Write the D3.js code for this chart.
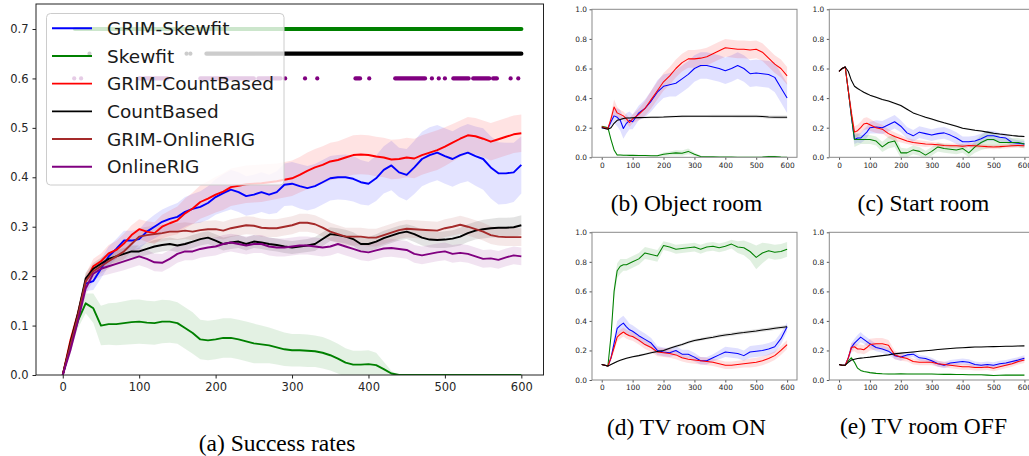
<!DOCTYPE html>
<html><head><meta charset="utf-8">
<script src="https://cdn.jsdelivr.net/npm/d3@7"></script>
<style>body{margin:0;background:#fff}svg{display:block}</style>
</head><body>
<svg id="c" width="1029" height="456"></svg>
<script>
// ---------------- DATA: main chart (a) ----------------
const mainSteps = [0,10,20,30,40,50,60,70,80,90,100,110,120,130,140,150,160,170,180,190,200,210,220,230,240,250,260,270,280,290,300,310,320,330,340,350,360,370,380,390,400,410,420,430,440,450,460,470,480,490,500,510,520,530,540,550,560,570,580,590,600];
const seriesNames = ["GRIM-Skewfit","Skewfit","GRIM-CountBased","CountBased","GRIM-OnlineRIG","OnlineRIG"];
const seriesColors = ["#0000ff","#008000","#ff0000","#000000","#a52a2a","#800080"];
const mainXTicks = [0,100,200,300,400,500,600];
const mainYTicks = [0,0.1,0.2,0.3,0.4,0.5,0.6,0.7];

const grimSkewfit = [0,0.06,0.12,0.185,0.19,0.215,0.24,0.255,0.272,0.272,
 0.275,0.29,0.30,0.31,0.316,0.32,0.33,0.336,0.34,0.348,
 0.36,0.368,0.375,0.37,0.362,0.365,0.37,0.365,0.37,0.385,
 0.387,0.382,0.378,0.382,0.39,0.398,0.40,0.40,0.397,0.39,
 0.387,0.398,0.415,0.424,0.41,0.405,0.42,0.437,0.445,0.45,
 0.443,0.437,0.445,0.45,0.443,0.437,0.42,0.408,0.408,0.41,0.425];
const grimSkewfitW = [0,0.01,0.012,0.015,0.018,0.02,0.02,0.02,0.02,0.02,
 0.02,0.022,0.024,0.025,0.026,0.028,0.03,0.03,0.032,0.034,
 0.036,0.038,0.04,0.04,0.04,0.04,0.04,0.04,0.042,0.043,
 0.044,0.045,0.045,0.045,0.045,0.045,0.045,0.046,0.046,0.045,
 0.044,0.046,0.048,0.05,0.05,0.052,0.054,0.055,0.056,0.056,
 0.056,0.056,0.057,0.058,0.06,0.062,0.063,0.063,0.062,0.06,0.058];
const skewfit = [0,0.06,0.11,0.145,0.135,0.1,0.103,0.103,0.105,0.107,
 0.108,0.106,0.105,0.108,0.108,0.105,0.095,0.085,0.072,0.07,
 0.072,0.075,0.075,0.072,0.068,0.064,0.062,0.06,0.056,0.052,
 0.05,0.05,0.049,0.048,0.045,0.04,0.033,0.025,0.021,0.021,
 0.022,0.02,0.012,0.003,0,0,0,0,0,0,
 0,0,0,0,0,0,0,0,0,0,0];
const skewfitW = [0,0.01,0.015,0.02,0.03,0.04,0.042,0.043,0.044,0.045,
 0.045,0.044,0.044,0.044,0.043,0.042,0.042,0.042,0.04,0.04,
 0.04,0.04,0.04,0.04,0.04,0.04,0.038,0.036,0.035,0.034,
 0.033,0.033,0.033,0.032,0.032,0.031,0.03,0.029,0.028,0.028,
 0.028,0.025,0.015,0.005,0,0,0,0,0,0,
 0,0,0,0,0,0,0,0,0,0,0];
const grimCount = [0,0.07,0.125,0.19,0.22,0.23,0.246,0.253,0.266,0.283,
 0.295,0.29,0.287,0.30,0.307,0.313,0.327,0.337,0.35,0.357,
 0.365,0.371,0.38,0.383,0.386,0.387,0.388,0.39,0.392,0.395,
 0.398,0.405,0.413,0.42,0.425,0.432,0.435,0.44,0.445,0.446,
 0.445,0.442,0.44,0.436,0.437,0.44,0.438,0.445,0.45,0.455,
 0.462,0.47,0.478,0.485,0.483,0.478,0.472,0.477,0.482,0.487,0.489];
const grimCountW = [0,0.01,0.012,0.015,0.015,0.016,0.017,0.018,0.02,0.02,
 0.02,0.021,0.022,0.024,0.026,0.028,0.03,0.032,0.034,0.035,
 0.036,0.037,0.038,0.038,0.038,0.038,0.038,0.037,0.036,0.036,
 0.036,0.036,0.037,0.037,0.038,0.038,0.038,0.039,0.04,0.04,
 0.04,0.04,0.04,0.04,0.04,0.04,0.04,0.04,0.04,0.04,
 0.039,0.038,0.037,0.037,0.037,0.037,0.038,0.038,0.038,0.038,0.038];
const countBased = [0,0.065,0.125,0.195,0.215,0.225,0.235,0.24,0.245,0.25,
 0.25,0.255,0.26,0.263,0.265,0.262,0.265,0.27,0.275,0.278,
 0.272,0.265,0.268,0.27,0.265,0.27,0.268,0.265,0.263,0.26,
 0.258,0.26,0.262,0.265,0.275,0.285,0.283,0.28,0.275,0.265,
 0.265,0.27,0.277,0.282,0.287,0.29,0.285,0.278,0.274,0.273,
 0.274,0.276,0.28,0.287,0.292,0.295,0.297,0.298,0.298,0.299,0.303];
const countBasedW = [0,0.008,0.01,0.012,0.012,0.012,0.012,0.012,0.012,0.012,
 0.012,0.012,0.013,0.013,0.013,0.013,0.013,0.013,0.013,0.013,
 0.013,0.013,0.013,0.013,0.013,0.013,0.013,0.013,0.013,0.013,
 0.013,0.013,0.013,0.014,0.014,0.014,0.014,0.014,0.014,0.014,
 0.014,0.015,0.015,0.015,0.015,0.015,0.016,0.016,0.016,0.016,
 0.017,0.017,0.018,0.018,0.018,0.019,0.019,0.02,0.02,0.02,0.02];
const grimOnline = [0,0.06,0.12,0.19,0.21,0.22,0.23,0.24,0.25,0.265,
 0.28,0.283,0.285,0.287,0.29,0.29,0.292,0.29,0.293,0.295,
 0.295,0.292,0.297,0.3,0.303,0.302,0.298,0.297,0.297,0.3,
 0.303,0.308,0.308,0.305,0.298,0.29,0.285,0.28,0.28,0.28,
 0.278,0.278,0.283,0.288,0.293,0.296,0.295,0.294,0.293,0.292,
 0.297,0.3,0.304,0.3,0.295,0.29,0.283,0.28,0.279,0.279,0.279];
const grimOnlineW = [0,0.008,0.01,0.012,0.013,0.014,0.015,0.015,0.016,0.016,
 0.017,0.017,0.017,0.017,0.017,0.017,0.017,0.017,0.017,0.017,
 0.018,0.018,0.018,0.018,0.018,0.018,0.018,0.018,0.018,0.018,
 0.018,0.018,0.018,0.018,0.018,0.018,0.018,0.018,0.018,0.018,
 0.018,0.018,0.018,0.018,0.018,0.018,0.018,0.018,0.018,0.018,
 0.018,0.018,0.018,0.018,0.018,0.018,0.018,0.018,0.018,0.018,0.018];
const onlineRIG = [0,0.05,0.11,0.175,0.205,0.215,0.22,0.225,0.23,0.235,
 0.24,0.235,0.228,0.227,0.235,0.245,0.25,0.25,0.255,0.258,
 0.26,0.265,0.268,0.265,0.262,0.265,0.265,0.26,0.258,0.258,
 0.26,0.262,0.262,0.26,0.258,0.26,0.265,0.26,0.255,0.25,
 0.248,0.252,0.256,0.257,0.255,0.253,0.245,0.242,0.245,0.248,
 0.25,0.245,0.247,0.245,0.24,0.235,0.236,0.233,0.238,0.242,0.24];
const onlineRIGW = [0,0.008,0.01,0.012,0.014,0.015,0.016,0.017,0.018,0.018,
 0.018,0.018,0.018,0.018,0.018,0.018,0.018,0.018,0.018,0.018,
 0.018,0.018,0.018,0.018,0.018,0.018,0.018,0.018,0.018,0.018,
 0.018,0.018,0.018,0.018,0.018,0.018,0.018,0.018,0.018,0.018,
 0.018,0.018,0.018,0.018,0.018,0.018,0.018,0.018,0.018,0.018,
 0.018,0.018,0.018,0.018,0.018,0.018,0.018,0.018,0.018,0.018,0.018];

// significance rows (runs of steps [start, end]) at fixed heights
const sigGreenLevel = 0.7, sigBlackLevel = 0.65, sigPurpleLevel = 0.6;
const sigGreenRuns = [[16,600]];
const sigBlackRuns = [[35,35],[162,162],[167,167],[188,600]];
const sigPurpleRuns = [[15,15],[24,24],[100,137],[180,250],[256,285],[291,291],[317,317],[333,333],[383,389],[401,401],[435,474],[483,483],[492,492],[500,500],[511,531],[537,558],[563,568],[586,586],[596,596]];

// ---------------- DATA: sub charts (b)-(e) ----------------
const subSteps = [0,10,20,30,40,50,60,70,80,90,100,120,140,160,180,200,220,240,260,280,300,320,340,360,380,400,420,440,460,480,500,520,540,560,580,600];
const subXTicks = [0,100,200,300,400,500,600];
const subYTicks = [0,0.2,0.4,0.6,0.8,1.0];
const subTitles = ["(b) Object room","(c) Start room","(d) TV room ON","(e) TV room OFF"];

// (b) Object room
const objBlue  = [0.2,0.2,0.195,0.24,0.28,0.27,0.25,0.195,0.23,0.25,0.24,0.3,0.33,0.38,0.44,0.48,0.49,0.5,0.53,0.56,0.6,0.62,0.62,0.61,0.6,0.585,0.6,0.62,0.6,0.565,0.57,0.565,0.56,0.54,0.47,0.4];
const objBlueW = [0,0.01,0.01,0.03,0.05,0.06,0.07,0.07,0.07,0.06,0.05,0.05,0.06,0.07,0.08,0.08,0.08,0.09,0.09,0.09,0.09,0.09,0.09,0.09,0.09,0.09,0.09,0.09,0.09,0.09,0.09,0.09,0.09,0.1,0.1,0.1];
const objGreen = [0.21,0.205,0.2,0.12,0.05,0.015,0.015,0.014,0.014,0.013,0.013,0.012,0.012,0.011,0.01,0.02,0.025,0.03,0.028,0.04,0.02,0.005,0.003,0.003,0.002,0.002,0.002,0.001,0.001,0.001,0.001,0.002,0.005,0.005,0.002,0.0];
const objGreenW = [0,0.005,0.005,0.01,0.01,0.006,0.005,0.005,0.005,0.005,0.005,0.005,0.005,0.005,0.006,0.012,0.015,0.018,0.018,0.02,0.012,0.005,0.003,0.003,0.002,0.002,0.002,0.002,0.002,0.002,0.002,0.003,0.005,0.005,0.003,0.002];
const objRed   = [0.207,0.2,0.195,0.26,0.34,0.3,0.29,0.28,0.26,0.235,0.26,0.29,0.33,0.39,0.45,0.51,0.55,0.6,0.64,0.665,0.665,0.67,0.68,0.7,0.72,0.74,0.735,0.73,0.73,0.725,0.73,0.71,0.67,0.63,0.6,0.55];
const objRedW  = [0,0.01,0.01,0.03,0.05,0.04,0.03,0.03,0.03,0.03,0.03,0.04,0.05,0.06,0.06,0.06,0.06,0.06,0.06,0.06,0.06,0.06,0.06,0.06,0.06,0.06,0.06,0.06,0.06,0.06,0.06,0.06,0.06,0.06,0.06,0.06];
const objBlack = [0.2,0.195,0.19,0.2,0.23,0.25,0.255,0.262,0.265,0.266,0.267,0.268,0.269,0.27,0.271,0.272,0.274,0.276,0.277,0.278,0.278,0.278,0.278,0.278,0.278,0.278,0.278,0.278,0.278,0.277,0.277,0.275,0.272,0.271,0.27,0.27];
const objBlackW = [0,0.003,0.004,0.005,0.006,0.006,0.006,0.006,0.006,0.006,0.006,0.006,0.006,0.006,0.007,0.007,0.007,0.007,0.008,0.008,0.008,0.008,0.008,0.009,0.009,0.009,0.009,0.01,0.01,0.01,0.01,0.01,0.011,0.011,0.012,0.012];

// (c) Start room
const startBlue  = [0.58,0.6,0.61,0.45,0.28,0.12,0.13,0.13,0.15,0.17,0.2,0.205,0.2,0.22,0.24,0.21,0.165,0.145,0.17,0.16,0.15,0.16,0.165,0.15,0.13,0.105,0.105,0.11,0.125,0.145,0.145,0.135,0.13,0.1,0.095,0.09];
const startBlueW = [0,0.005,0.005,0.03,0.04,0.03,0.03,0.035,0.04,0.04,0.04,0.045,0.045,0.045,0.045,0.04,0.04,0.04,0.04,0.04,0.04,0.04,0.04,0.04,0.04,0.035,0.035,0.035,0.035,0.035,0.035,0.03,0.03,0.025,0.02,0.02];
const startGreen = [0.58,0.6,0.61,0.45,0.28,0.12,0.12,0.12,0.12,0.12,0.12,0.11,0.07,0.1,0.11,0.03,0.03,0.05,0.04,0.015,0.04,0.07,0.06,0.055,0.05,0.06,0.03,0.07,0.1,0.12,0.12,0.1,0.1,0.1,0.1,0.09];
const startGreenW = [0,0.005,0.005,0.03,0.05,0.05,0.04,0.03,0.03,0.03,0.03,0.03,0.035,0.04,0.04,0.035,0.03,0.03,0.03,0.03,0.03,0.03,0.03,0.03,0.03,0.03,0.03,0.04,0.05,0.06,0.05,0.04,0.03,0.03,0.03,0.03];
const startRed   = [0.58,0.6,0.61,0.45,0.3,0.17,0.18,0.2,0.225,0.23,0.22,0.2,0.19,0.16,0.14,0.125,0.11,0.1,0.095,0.09,0.088,0.085,0.08,0.078,0.078,0.075,0.08,0.078,0.075,0.072,0.07,0.072,0.075,0.078,0.08,0.078];
const startRedW  = [0,0.005,0.005,0.03,0.05,0.04,0.04,0.04,0.04,0.04,0.04,0.035,0.03,0.03,0.03,0.025,0.02,0.02,0.02,0.02,0.015,0.015,0.015,0.015,0.015,0.015,0.015,0.015,0.015,0.015,0.015,0.015,0.015,0.015,0.015,0.015];
const startBlack = [0.58,0.6,0.61,0.58,0.52,0.48,0.465,0.452,0.44,0.43,0.42,0.405,0.39,0.38,0.365,0.35,0.325,0.3,0.285,0.27,0.258,0.245,0.233,0.222,0.21,0.197,0.19,0.183,0.177,0.17,0.163,0.157,0.152,0.147,0.143,0.14];
const startBlackW = [0,0.004,0.005,0.006,0.006,0.006,0.006,0.006,0.006,0.006,0.006,0.006,0.006,0.006,0.006,0.006,0.006,0.006,0.006,0.006,0.006,0.006,0.006,0.006,0.006,0.006,0.006,0.006,0.006,0.006,0.006,0.006,0.006,0.006,0.006,0.006];

// (d) TV room ON
const onBlue  = [0.105,0.1,0.095,0.15,0.25,0.35,0.37,0.385,0.36,0.34,0.33,0.3,0.275,0.25,0.2,0.19,0.185,0.2,0.175,0.175,0.155,0.13,0.13,0.15,0.17,0.19,0.185,0.18,0.165,0.19,0.195,0.2,0.21,0.225,0.28,0.36];
const onBlueW = [0,0.005,0.005,0.02,0.04,0.05,0.05,0.05,0.05,0.04,0.04,0.04,0.04,0.035,0.03,0.03,0.03,0.03,0.03,0.03,0.03,0.025,0.025,0.025,0.03,0.035,0.035,0.035,0.035,0.04,0.04,0.04,0.04,0.04,0.04,0.03];
const onGreen = [0.105,0.1,0.095,0.3,0.6,0.74,0.77,0.78,0.78,0.79,0.8,0.82,0.86,0.85,0.84,0.91,0.9,0.885,0.89,0.895,0.9,0.885,0.9,0.905,0.895,0.905,0.92,0.9,0.895,0.87,0.83,0.86,0.875,0.865,0.87,0.885];
const onGreenW = [0,0.005,0.005,0.03,0.05,0.05,0.05,0.04,0.04,0.04,0.04,0.04,0.04,0.04,0.04,0.03,0.03,0.03,0.03,0.03,0.03,0.03,0.03,0.03,0.03,0.03,0.03,0.04,0.05,0.06,0.08,0.07,0.05,0.05,0.05,0.05];
const onRed   = [0.105,0.1,0.095,0.15,0.22,0.29,0.31,0.325,0.31,0.3,0.295,0.27,0.24,0.22,0.19,0.185,0.18,0.17,0.15,0.14,0.135,0.13,0.125,0.12,0.11,0.1,0.1,0.105,0.11,0.115,0.12,0.13,0.145,0.165,0.2,0.24];
const onRedW  = [0,0.005,0.005,0.02,0.03,0.03,0.03,0.03,0.03,0.03,0.03,0.03,0.03,0.03,0.03,0.03,0.03,0.03,0.025,0.025,0.025,0.025,0.025,0.025,0.025,0.025,0.025,0.025,0.025,0.03,0.03,0.03,0.03,0.03,0.03,0.03];
const onBlack = [0.105,0.1,0.095,0.105,0.115,0.125,0.133,0.14,0.147,0.152,0.157,0.165,0.175,0.185,0.193,0.2,0.215,0.228,0.24,0.255,0.268,0.275,0.283,0.29,0.298,0.305,0.31,0.316,0.321,0.327,0.332,0.338,0.344,0.35,0.355,0.36];
const onBlackW = [0,0.003,0.003,0.004,0.005,0.005,0.005,0.005,0.005,0.006,0.006,0.006,0.007,0.007,0.008,0.008,0.008,0.009,0.009,0.01,0.01,0.01,0.011,0.011,0.011,0.012,0.012,0.012,0.012,0.012,0.012,0.012,0.012,0.012,0.012,0.012];

// (e) TV room OFF
const offBlue  = [0.105,0.1,0.1,0.15,0.22,0.25,0.27,0.29,0.275,0.26,0.245,0.22,0.21,0.195,0.165,0.155,0.17,0.175,0.15,0.145,0.13,0.11,0.1,0.115,0.12,0.125,0.12,0.105,0.1,0.105,0.1,0.11,0.115,0.125,0.135,0.148];
const offBlueW = [0,0.005,0.005,0.02,0.03,0.03,0.035,0.035,0.03,0.03,0.03,0.025,0.025,0.025,0.025,0.025,0.02,0.02,0.02,0.02,0.02,0.02,0.02,0.02,0.02,0.02,0.02,0.02,0.02,0.02,0.02,0.02,0.02,0.02,0.02,0.02];
const offGreen = [0.105,0.1,0.1,0.13,0.15,0.12,0.08,0.065,0.058,0.054,0.05,0.045,0.042,0.04,0.04,0.042,0.041,0.04,0.04,0.04,0.04,0.039,0.038,0.038,0.037,0.037,0.036,0.035,0.035,0.033,0.03,0.032,0.033,0.033,0.033,0.033];
const offGreenW = [0,0.003,0.003,0.005,0.01,0.01,0.008,0.006,0.005,0.005,0.005,0.004,0.004,0.004,0.004,0.004,0.004,0.004,0.004,0.004,0.004,0.004,0.004,0.004,0.004,0.004,0.004,0.004,0.004,0.004,0.004,0.004,0.004,0.004,0.004,0.004];
const offRed   = [0.105,0.1,0.1,0.15,0.22,0.225,0.21,0.21,0.205,0.22,0.24,0.245,0.245,0.235,0.17,0.155,0.145,0.125,0.12,0.12,0.12,0.11,0.105,0.1,0.095,0.09,0.09,0.085,0.085,0.088,0.08,0.09,0.1,0.11,0.125,0.135];
const offRedW  = [0,0.005,0.005,0.02,0.03,0.03,0.03,0.03,0.03,0.035,0.04,0.04,0.04,0.035,0.03,0.025,0.02,0.02,0.02,0.02,0.02,0.02,0.02,0.02,0.02,0.02,0.02,0.02,0.02,0.02,0.02,0.02,0.02,0.02,0.02,0.02];
const offBlack = [0.105,0.1,0.1,0.12,0.135,0.14,0.145,0.148,0.15,0.153,0.155,0.16,0.165,0.17,0.177,0.182,0.186,0.19,0.194,0.198,0.202,0.206,0.21,0.213,0.216,0.219,0.221,0.223,0.224,0.225,0.226,0.227,0.228,0.229,0.23,0.231];
const offBlackW = [0,0.002,0.002,0.003,0.003,0.003,0.003,0.003,0.003,0.003,0.003,0.003,0.003,0.003,0.003,0.003,0.003,0.003,0.003,0.003,0.003,0.003,0.003,0.003,0.003,0.003,0.003,0.003,0.003,0.003,0.003,0.003,0.003,0.003,0.003,0.003];

// ---------------- DRAWING ----------------
const svg = d3.select("#c");
const BLUE = seriesColors[0], GREEN = seriesColors[1], RED = seriesColors[2], BLACK = seriesColors[3];

function drawPanel(cfg) {
  const { id, x, y, xs, series, xTicks, yTicks, yFmt, font, lineW, tickLen, pad, frame, bandOp } = cfg;
  const [x0, x1] = x.range(), [yb, yt] = y.range();
  svg.append("clipPath").attr("id", "clip" + id).append("rect")
    .attr("x", x0).attr("y", yt).attr("width", x1 - x0).attr("height", yb - yt);
  const g = svg.append("g");
  const plot = g.append("g").attr("clip-path", `url(#clip${id})`);
  series.forEach(s => {
    const area = d3.area().x((d, i) => x(xs[i]))
      .y0((d, i) => y(d - s.w[i])).y1((d, i) => y(d + s.w[i]));
    plot.append("path").datum(s.v).attr("d", area)
      .attr("fill", s.c).attr("fill-opacity", bandOp).attr("stroke", "none");
  });
  series.forEach(s => {
    const line = d3.line().x((d, i) => x(xs[i])).y(d => y(d));
    plot.append("path").datum(s.v).attr("d", line).attr("fill", "none")
      .attr("stroke", s.c).attr("stroke-width", lineW).attr("stroke-linejoin", "round");
  });
  const ax = g.append("g").attr("transform", `translate(0,${yb})`)
    .call(d3.axisBottom(x).tickValues(xTicks).tickSize(tickLen).tickPadding(pad).tickSizeOuter(0).tickFormat(d3.format("d")));
  const ay = g.append("g").attr("transform", `translate(${x0},0)`)
    .call(d3.axisLeft(y).tickValues(yTicks).tickSize(tickLen).tickPadding(pad).tickSizeOuter(0).tickFormat(d3.format(yFmt)));
  [ax, ay].forEach(a => {
    a.select(".domain").remove();
    a.selectAll("line").attr("stroke", frame.tick);
    a.selectAll("text").attr("font-family", "DejaVu Sans").attr("font-size", font).attr("fill", "#262626");
  });
  g.append("rect").attr("x", x0).attr("y", yt).attr("width", x1 - x0).attr("height", yb - yt)
    .attr("fill", "none").attr("stroke", frame.c).attr("stroke-width", frame.w);
  return { g, plot };
}

// ----- main chart (a)
const xMain = d3.scaleLinear().domain([-35, 629]).range([36, 543.5]);
const yMain = d3.scaleLinear().domain([0, 0.7506]).range([375, 4]);
const mainSeries = [
  { v: grimSkewfit, w: grimSkewfitW, c: seriesColors[0] },
  { v: skewfit, w: skewfitW, c: seriesColors[1] },
  { v: grimCount, w: grimCountW, c: seriesColors[2] },
  { v: countBased, w: countBasedW, c: seriesColors[3] },
  { v: grimOnline, w: grimOnlineW, c: seriesColors[4] },
  { v: onlineRIG, w: onlineRIGW, c: seriesColors[5] }
];
const main = drawPanel({ id: "a", x: xMain, y: yMain, xs: mainSteps, series: mainSeries,
  xTicks: mainXTicks, yTicks: mainYTicks, yFmt: ".1f", font: 11.5, lineW: 1.9, tickLen: 3.5, pad: 4,
  frame: { c: "#222", w: 1, tick: "#222" }, bandOp: 0.11 });

// significance rows
[[sigGreenRuns, sigGreenLevel, seriesColors[1]], [sigBlackRuns, sigBlackLevel, seriesColors[3]], [sigPurpleRuns, sigPurpleLevel, seriesColors[5]]]
  .forEach(([runs, lvl, col]) => {
    main.plot.selectAll(null).data(runs).enter().append("line")
      .attr("x1", d => xMain(d[0])).attr("x2", d => xMain(d[1]))
      .attr("y1", yMain(lvl)).attr("y2", yMain(lvl))
      .attr("stroke", col).attr("stroke-width", 4.2).attr("stroke-linecap", "round");
  });

// legend
const leg = svg.append("g");
leg.append("rect").attr("x", 46.5).attr("y", 13.5).attr("width", 237.5).attr("height", 171.5)
  .attr("rx", 4).attr("fill", "#fff").attr("fill-opacity", 0.8).attr("stroke", "#cccccc").attr("stroke-width", 1);
const legY0 = 28.3, legDy = 27.68;
seriesNames.forEach((n, i) => {
  const yy = legY0 + i * legDy;
  leg.append("line").attr("x1", 52).attr("x2", 92).attr("y1", yy).attr("y2", yy)
    .attr("stroke", seriesColors[i]).attr("stroke-width", 1.9);
  leg.append("text").attr("x", 107).attr("y", yy).attr("dy", "0.36em")
    .attr("font-family", "DejaVu Sans").attr("font-size", 18.5).attr("fill", "#1a1a1a").text(n);
});

// ----- sub charts
const subPanels = [
  { id: "b", xr: [592, 797], yr: [157.3, 9.3], s: [[objBlue, objBlueW, BLUE], [objGreen, objGreenW, GREEN], [objRed, objRedW, RED], [objBlack, objBlackW, BLACK]] },
  { id: "c", xr: [829.3, 1034.3], yr: [157.3, 9.3], s: [[startBlue, startBlueW, BLUE], [startGreen, startGreenW, GREEN], [startRed, startRedW, RED], [startBlack, startBlackW, BLACK]] },
  { id: "d", xr: [592, 797], yr: [380, 232.3], s: [[onBlue, onBlueW, BLUE], [onGreen, onGreenW, GREEN], [onRed, onRedW, RED], [onBlack, onBlackW, BLACK]] },
  { id: "e", xr: [829.3, 1034.3], yr: [380, 232.3], s: [[offBlue, offBlueW, BLUE], [offGreen, offGreenW, GREEN], [offRed, offRedW, RED], [offBlack, offBlackW, BLACK]] }
];
subPanels.forEach(p => {
  const x = d3.scaleLinear().domain([-31.5, 632]).range(p.xr);
  const y = d3.scaleLinear().domain([0, 1]).range(p.yr);
  drawPanel({ id: p.id, x, y, xs: subSteps, series: p.s.map(a => ({ v: a[0], w: a[1], c: a[2] })),
    xTicks: subXTicks, yTicks: subYTicks, yFmt: ".1f", font: 7.4, lineW: 1.05, tickLen: 2.5, pad: 2.5,
    frame: { c: "#8a8a8a", w: 1, tick: "#555" }, bandOp: 0.12 });
});

// captions
const captions = [
  { t: "(a) Success rates", x: 277, y: 451 },
  { t: subTitles[0], x: 686.5, y: 210.5 },
  { t: subTitles[1], x: 923.5, y: 210.5 },
  { t: subTitles[2], x: 686.5, y: 434.5 },
  { t: subTitles[3], x: 923.5, y: 434 }
];
svg.selectAll(null).data(captions).enter().append("text")
  .attr("x", d => d.x).attr("y", d => d.y).attr("text-anchor", "middle")
  .attr("font-family", "Liberation Serif").attr("font-size", 23.5).attr("fill", "#000").text(d => d.t);
</script>
</body></html>
